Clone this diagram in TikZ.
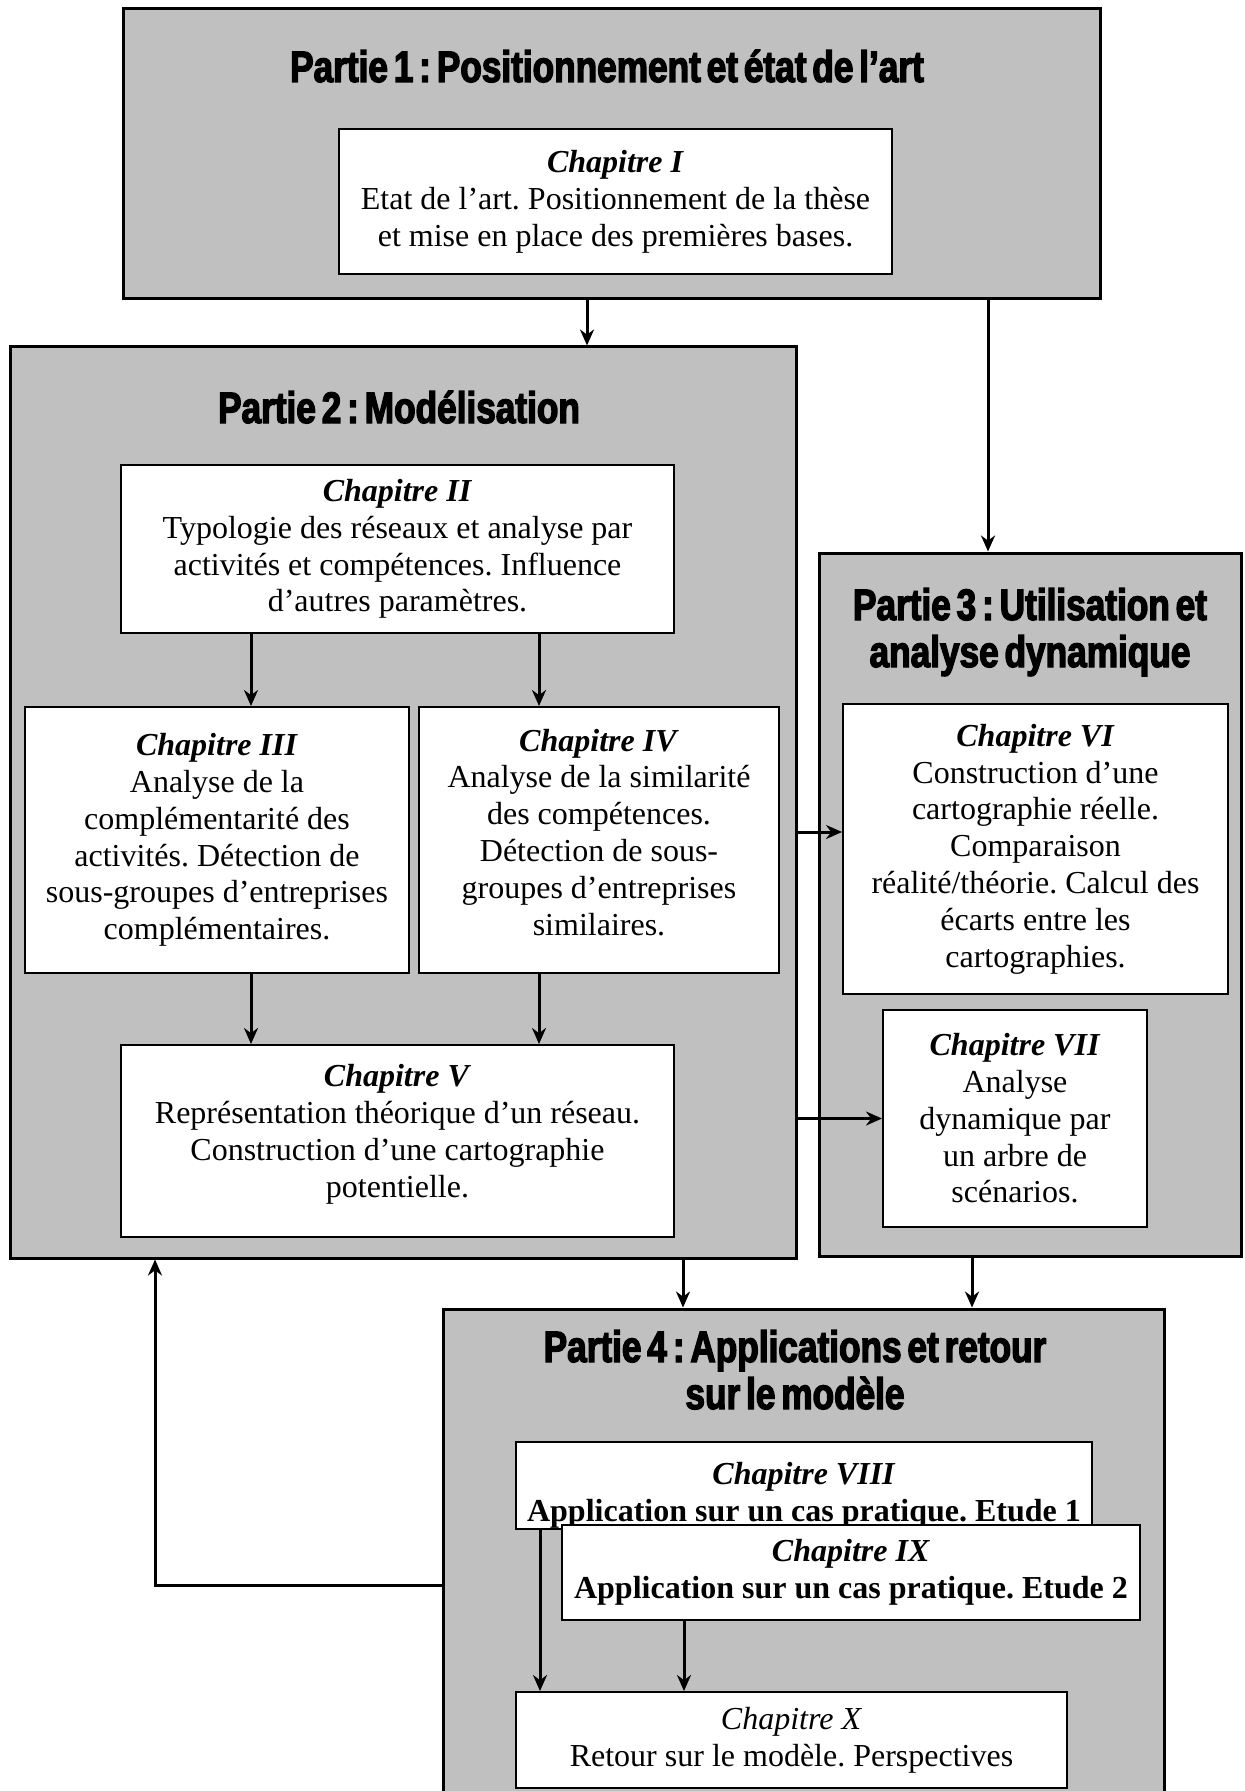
\documentclass[tikz,border=0pt]{standalone}
\usepackage{fontspec}
\setmainfont{Liberation Serif}
\newfontfamily\titlefont{Liberation Sans}[BoldFeatures={FakeStretch=0.8,FakeBold=3,WordSpace=0.6}]
\usetikzlibrary{arrows.meta}
\definecolor{gris}{RGB}{192,192,192}
\frenchspacing

\begin{document}
\begin{tikzpicture}[x=0.5pt,y=-0.5pt,
  partie/.style={draw,fill=gris,line width=1.5pt,inner sep=0pt},
  chap/.style={draw,fill=white,line width=1pt,inner sep=0pt,align=center,
    font=\fontsize{16pt}{18.4pt}\selectfont},
  titre/.style={align=center,inner sep=0pt,anchor=base,
    font=\titlefont\bfseries\fontsize{22pt}{23.5pt}\selectfont},
  fleche/.style={line width=1.5pt,-{Stealth[length=8pt,width=7pt]}}]
  \useasboundingbox (0,0) rectangle (1244,1791);
  \clip (0,0) rectangle (1244,1791);

  \node [partie,minimum width=488.5pt,minimum height=145pt] (p1) at (611.5,154) {};
  \node [partie,minimum width=393pt,minimum height=455.5pt] (p2) at (403,802.5) {};
  \node [partie,minimum width=211pt,minimum height=351.5pt] (p3) at (1030,904.5) {};
  \node [partie,minimum width=360.5pt,minimum height=245.5pt] (p4) at (803.5,1554.5) {};

  \node [titre] (t1) at (607,82) {Partie 1 : Positionnement et état de l’art};
  \node [titre] (t2) at (399,423) {Partie 2 : Modélisation};
  \node [titre] (t3) at (1030,667) {Partie 3 : Utilisation et\\analyse dynamique};
  \node [titre] (t4) at (795,1409) {Partie 4 : Applications et retour\\sur le modèle};

  \node [chap,minimum width=276.5pt,minimum height=72.5pt] (c1) at (615.5,202)
    {\textbf{\textit{Chapitre I}}\\Etat de l’art. Positionnement de la thèse\\et mise en place des premières bases.};
  \node [chap,minimum width=276.5pt,minimum height=84pt] (c2) at (397.5,549)
    {\textbf{\textit{Chapitre II}}\\Typologie des réseaux et analyse par\\activités et compétences. Influence\\d’autres paramètres.};
  \node [chap,minimum width=192pt,minimum height=133pt] (c3) at (217,840)
    {\textbf{\textit{Chapitre III}}\\Analyse de la\\complémentarité des\\activités. Détection de\\sous-groupes d’entreprises\\complémentaires.};
  \node [chap,minimum width=180pt,minimum height=133pt] (c4) at (599,840)
    {\textbf{\textit{Chapitre IV}}\\Analyse de la similarité\\des compétences.\\Détection de sous-\\groupes d’entreprises\\similaires.\rule[-8pt]{0pt}{0pt}};
  \node [chap,minimum width=276.5pt,minimum height=96pt] (c5) at (397.5,1141)
    {\textbf{\textit{Chapitre V}}\\Représentation théorique d’un réseau.\\Construction d’une cartographie\\potentielle.\rule[-10pt]{0pt}{0pt}};
  \node [chap,minimum width=192.5pt,minimum height=145pt] (c6) at (1035.5,849)
    {\textbf{\textit{Chapitre VI}}\\Construction d’une\\cartographie réelle.\\Comparaison\\réalité/théorie. Calcul des\\écarts entre les\\cartographies.};
  \node [chap,minimum width=132pt,minimum height=108.5pt] (c7) at (1015,1118.5)
    {\textbf{\textit{Chapitre VII}}\\Analyse\\dynamique par\\un arbre de\\scénarios.};
  \node [chap,minimum width=288pt,minimum height=43.5pt] (c8) at (804,1485.5)
    {\rule{0pt}{21pt}\textbf{\textit{Chapitre VIII}}\\\textbf{Application sur un cas pratique. Etude 1}};
  \node [chap,minimum width=289pt,minimum height=47.5pt] (c9) at (851,1572.5)
    {\textbf{\textit{Chapitre IX}}\\\textbf{Application sur un cas pratique. Etude 2}};
  \node [chap,minimum width=275.5pt,minimum height=48pt] (c10) at (791.5,1740)
    {\textit{Chapitre X}\\Retour sur le modèle. Perspectives};

  \draw [fleche] ([xshift=-12.25pt]p1.south) -- ([xshift=-12.25pt]p1.south |- p2.north);
  \draw [fleche] ([xshift=-21pt]p3.north |- p1.south) -- ([xshift=-21pt]p3.north);
  \draw [fleche] ([xshift=17pt]c3.north |- c2.south) -- ([xshift=17pt]c3.north);
  \draw [fleche] ([xshift=-30pt]c4.north |- c2.south) -- ([xshift=-30pt]c4.north);
  \draw [fleche] ([xshift=17pt]c3.south) -- ([xshift=17pt]c3.south |- c5.north);
  \draw [fleche] ([xshift=-30pt]c4.south) -- ([xshift=-30pt]c4.south |- c5.north);
  \draw [fleche] ([yshift=8.5pt]c6.west -| p2.east) -- ([yshift=8.5pt]c6.west);
  \draw [fleche] (c7.west -| p2.east) -- (c7.west);
  \draw [fleche] ([xshift=-60.25pt]p4.north |- p2.south) -- ([xshift=-60.25pt]p4.north);
  \draw [fleche] ([xshift=-29pt]p3.south) -- ([xshift=-29pt]p3.south |- p4.north);
  \draw [fleche] ([xshift=-132pt]c8.south) -- ([xshift=-132pt]c8.south |- c10.north);
  \draw [fleche] ([xshift=-83.5pt]c9.south) -- ([xshift=-83.5pt]c9.south |- c10.north);
  \draw [fleche] ([yshift=-15.25pt]p4.west) -| ([xshift=-124pt]p2.south);
\end{tikzpicture}
\end{document}
